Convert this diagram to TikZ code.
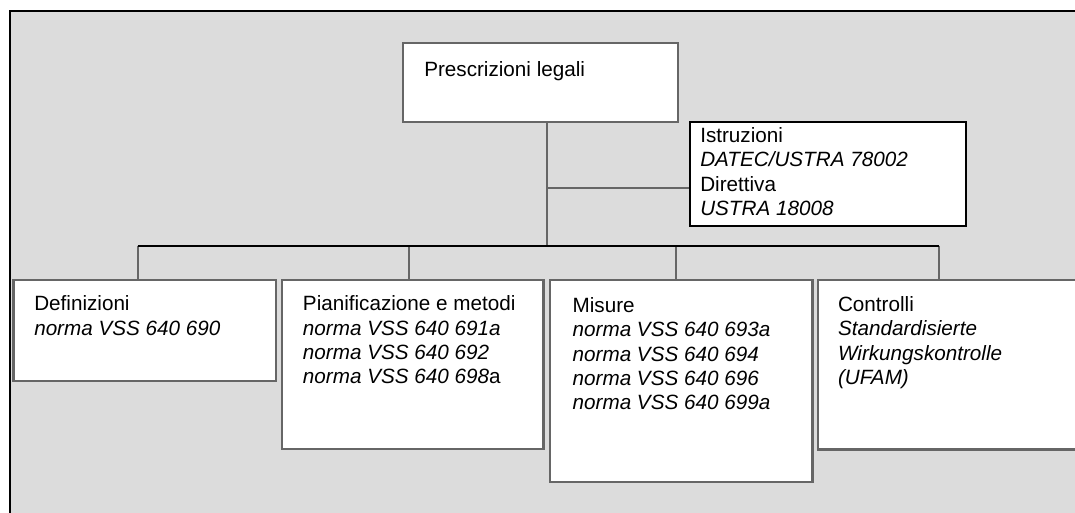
\documentclass[tikz,border=0pt]{standalone}
\usepackage{fontspec}
\setmainfont{Liberation Sans}
\usetikzlibrary{fit}
\definecolor{bg}{HTML}{DCDCDC}
\definecolor{edge}{HTML}{666666}
\begin{document}
\begin{tikzpicture}[x=0.75pt,y=-0.75pt,
  box/.style={draw=edge,line width=1.8pt,fill=white,inner sep=0pt},
  ibox/.style={draw=black,line width=1.5pt,fill=white,inner sep=0pt},
  txt/.style={anchor=north west,align=left,inner sep=0pt,font=\fontsize{15.5}{18.3}\selectfont},
  conn/.style={draw=edge,line width=1.5pt},
  bus/.style={draw=black,line width=1.8pt}]
\useasboundingbox (0,0) rectangle (1075,512);
\clip (0,0) rectangle (1075,512);
\fill[white] (0,0) rectangle (1075,512);
\draw[fill=bg,line width=2pt] (10,11) rectangle (1100,540);

% connectors (under the boxes)
\node[box,fit={(402.7,42.7)(678,121.7)}] (top) {};
\node[ibox,fit={(690,121.7)(966,225.5)}] (istr) {};
\node[box,fit={(13.3,280)(275.7,380.7)}] (def) {};
\node[box,fit={(281.7,280)(543.4,449)}] (pian) {};
\node[box,fit={(550.2,280)(812.3,482)}] (mis) {};
\node[box,fit={(817.7,280)(1100,449.3)}] (ctl) {};

\coordinate (j) at (547,246);
\coordinate (br) at (547,188.3);
\draw[conn] (j |- top.south) -- (j);
\draw[conn] (br) -- (br -| istr.west);
\coordinate (d1) at (137.7,246);
\coordinate (d2) at (409.3,246);
\coordinate (d3) at (675.5,246);
\coordinate (d4) at (938.5,246);
\draw[conn] (d1) -- (d1 |- def.north);
\draw[conn] (d2) -- (d2 |- pian.north);
\draw[conn] (d3) -- (d3 |- mis.north);
\draw[conn] (d4) -- (d4 |- ctl.north);
\draw[bus] (d1) -- (d4);

% texts
\node[txt] (toptxt) at (424,61) {Prescrizioni legali};
\node[txt] (istrtxt) at (700,127) {Istruzioni\\\textit{DATEC/USTRA 78002}\\Direttiva\\\textit{USTRA 18008}};
\node[txt] (deftxt) at (34,295.5) {Definizioni\\\textit{norma VSS 640 690}};
\node[txt] (piantxt) at (302.7,295.5) {Pianificazione e metodi\\\textit{norma VSS 640 691a}\\\textit{norma VSS 640 692}\\\textit{norma VSS 640 698}a};
\node[txt] (mistxt) at (572.4,297) {Misure\\\textit{norma VSS 640 693a}\\\textit{norma VSS 640 694}\\\textit{norma VSS 640 696}\\\textit{norma VSS 640 699a}};
\node[txt] (ctltxt) at (837.8,296) {Controlli\\\textit{Standardisierte}\\\textit{Wirkungskontrolle}\\\textit{(UFAM)}};
\end{tikzpicture}
\end{document}
